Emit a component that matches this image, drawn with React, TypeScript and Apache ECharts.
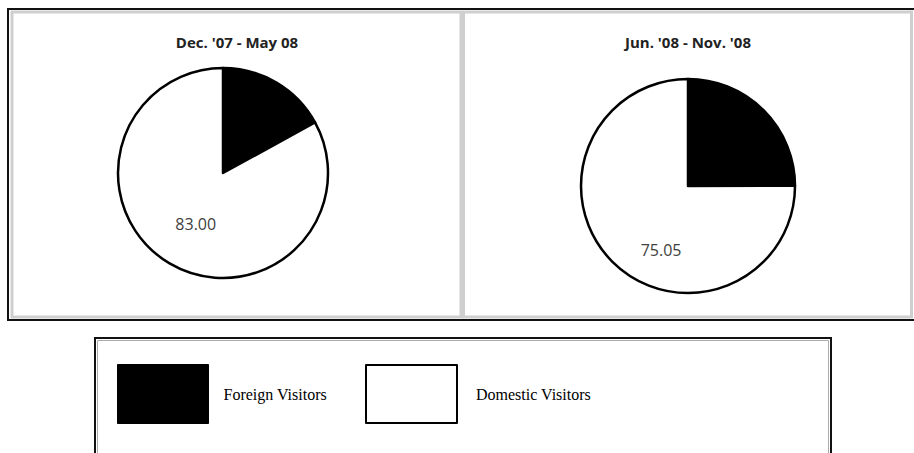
import React, { useEffect, useRef } from "react";
import * as echarts from "echarts";

const categories = ["Foreign Visitors", "Domestic Visitors"];
const periodTitles = ["Dec. '07 - May 08", "Jun. '08 - Nov. '08"];
const period1Values = [17.0, 83.0];
const period2Values = [24.95, 75.05];

export default function App() {
  const ref = useRef<HTMLDivElement>(null);
  useEffect(() => {
    if (!ref.current) return;
    const chart = echarts.init(ref.current, null, { renderer: "svg" });
    const fills = ["#000000", "#ffffff"];
    const mkData = (vals: number[]) =>
      vals.map((v, i) => ({
        name: categories[i],
        value: v,
        itemStyle: { color: fills[i], borderColor: "#000", borderWidth: 2.5 },
        label: { show: i === 1 },
      }));
    const labelCommon = {
      show: true,
      position: "inside",
      formatter: (p: any) => Number(p.value).toFixed(2),
      color: "#404040",
      fontSize: 16,
      fontFamily: "Open Sans",
    };
    const option: any = {
      animation: false,
      backgroundColor: "#ffffff",
      title: [
        {
          text: periodTitles[0],
          left: 237,
          top: 34,
          textAlign: "center",
          padding: 0,
          textStyle: { fontSize: 15, fontWeight: "bold", color: "#222", fontFamily: "Open Sans" },
        },
        {
          text: periodTitles[1],
          left: 688,
          top: 34,
          textAlign: "center",
          padding: 0,
          textStyle: { fontSize: 15, fontWeight: "bold", color: "#222", fontFamily: "Open Sans" },
        },
      ],
      legend: [
        {
          data: [categories[0]],
          left: 117,
          top: 364,
          padding: 0,
          itemWidth: 91,
          itemHeight: 59,
          icon: "rect",
          selectedMode: false,
          itemStyle: { borderColor: "#000", borderWidth: 1 },
          textStyle: { fontFamily: "Liberation Serif", fontSize: 16, color: "#000", padding: [0, 0, 4, 10] },
        },
        {
          data: [categories[1]],
          left: 365,
          top: 364,
          padding: 0,
          itemWidth: 91,
          itemHeight: 58,
          icon: "rect",
          selectedMode: false,
          itemStyle: { borderColor: "#000", borderWidth: 2 },
          textStyle: { fontFamily: "Liberation Serif", fontSize: 16, color: "#000", padding: [0, 0, 4, 14] },
        },
      ],
      graphic: [
        {
          type: "rect",
          shape: { x: 8, y: 9, width: 930, height: 311 },
          style: { fill: "none", stroke: "#111", lineWidth: 2 },
          silent: true,
        },
        {
          type: "rect",
          shape: { x: 12, y: 12, width: 449, height: 305 },
          style: { fill: "none", stroke: "#cfcfcf", lineWidth: 3 },
          silent: true,
        },
        {
          type: "rect",
          shape: { x: 463.5, y: 12, width: 448, height: 305 },
          style: { fill: "none", stroke: "#cfcfcf", lineWidth: 3 },
          silent: true,
        },
        {
          type: "rect",
          shape: { x: 95, y: 338, width: 736, height: 200 },
          style: { fill: "none", stroke: "#111", lineWidth: 2 },
          silent: true,
        },
        {
          type: "rect",
          shape: { x: 97.5, y: 340.5, width: 731, height: 200 },
          style: { fill: "none", stroke: "#aaa", lineWidth: 1 },
          silent: true,
        },
      ],
      series: [
        {
          type: "pie",
          center: [223, 173],
          radius: 105,
          startAngle: 90,
          clockwise: true,
          emphasis: { disabled: true },
          label: labelCommon,
          labelLine: { show: false },
          labelLayout: { dx: 1, dy: 3 },
          data: mkData(period1Values),
        },
        {
          type: "pie",
          center: [688, 186],
          radius: 107,
          startAngle: 90,
          clockwise: true,
          emphasis: { disabled: true },
          label: labelCommon,
          labelLine: { show: false },
          labelLayout: { dx: 13, dy: 24 },
          data: mkData(period2Values),
        },
      ],
    };
    chart.setOption(option);
    return () => chart.dispose();
  }, []);
  return (
    <div
      ref={ref}
      style={{ position: "fixed", left: 0, top: 0, width: 914, height: 453 }}
    />
  );
}
